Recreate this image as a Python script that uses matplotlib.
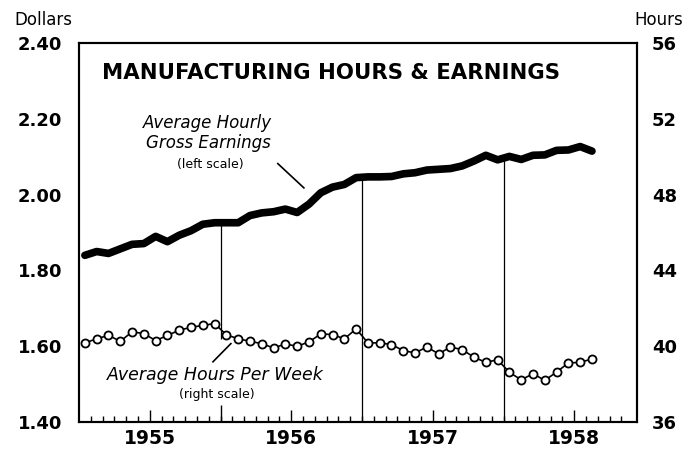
import matplotlib
matplotlib.use("Agg")
import matplotlib.pyplot as plt
import matplotlib.transforms as mtransforms

# monthly values, Jan 1955 .. Aug 1958
earnings = [1.84, 1.85, 1.845, 1.857, 1.869, 1.871, 1.89, 1.876, 1.893, 1.905, 1.922, 1.926,
            1.926, 1.926, 1.945, 1.952, 1.955, 1.962, 1.953, 1.975, 2.005, 2.02, 2.027, 2.045,
            2.047, 2.047, 2.048, 2.055, 2.058, 2.065, 2.067, 2.069, 2.076, 2.089, 2.104, 2.092,
            2.101, 2.093, 2.104, 2.105, 2.117, 2.118, 2.127, 2.115]
hours = [40.18, 40.39, 40.58, 40.26, 40.76, 40.67, 40.30, 40.57, 40.85, 41.0, 41.1, 41.2,
         40.6, 40.4, 40.26, 40.14, 39.91, 40.12, 40.0, 40.23, 40.65, 40.62, 40.39, 40.92,
         40.18, 40.18, 40.09, 39.77, 39.65, 39.96, 39.6, 39.96, 39.82, 39.42, 39.15, 39.29,
         38.62, 38.23, 38.55, 38.2, 38.64, 39.12, 39.15, 39.33]
years = ["1955", "1956", "1957", "1958"]
dollar_ticks = [1.40, 1.60, 1.80, 2.00, 2.20, 2.40]
hour_ticks = [36, 40, 44, 48, 52, 56]

months = [i + 0.5 for i in range(len(earnings))]

fig = plt.figure(figsize=(6.99, 4.49), dpi=100)
ax = fig.add_axes([0.113, 0.060, 0.798, 0.844])
ax2 = ax.twinx()

ax.set_xlim(0, 47.3)
ax.set_ylim(1.40, 2.40)
ax2.set_ylim(36, 56)

ax.plot(months, earnings, color="black", lw=5.5, solid_capstyle="round",
        solid_joinstyle="round", zorder=3)
ax2.plot(months, hours, color="black", lw=1.2, marker="o", ms=5.8,
         mfc="white", mec="black", mew=1.3, zorder=3)

# year divider lines
ax.vlines(12, 1.62, earnings[11], color="black", lw=0.9)
ax.vlines(24, 1.40, earnings[23], color="black", lw=0.9)
ax.vlines(36, 1.40, earnings[35], color="black", lw=0.9)

for a in (ax, ax2):
    for s in a.spines.values():
        s.set_linewidth(1.5)

# y axes: labels on all, tick marks only on inner values
ax.set_yticks(dollar_ticks)
ax.set_yticklabels(["%.2f" % v for v in dollar_ticks], fontsize=13, fontweight="bold")
ax.set_yticks(dollar_ticks[1:-1], minor=True)
ax.tick_params(axis="y", which="major", length=0, pad=12)
ax.tick_params(axis="y", which="minor", direction="in", length=9, width=1.2)

ax2.set_yticks(hour_ticks)
ax2.set_yticklabels([str(v) for v in hour_ticks], fontsize=13, fontweight="bold")
ax2.set_yticks(hour_ticks[1:-1], minor=True)
ax2.tick_params(axis="y", which="major", length=0, pad=11)
ax2.tick_params(axis="y", which="minor", direction="in", length=9, width=1.2)

# x axis: monthly ticks, longer mid-year ticks carrying the year labels
ax.set_xticks([6, 18, 30, 42])
ax.set_xticklabels(years, fontsize=13.5, fontweight="bold")
ax.set_xticks(range(1, 47), minor=True)
ax.tick_params(axis="x", which="major", direction="in", length=9, width=1.0, pad=5)
ax.tick_params(axis="x", which="minor", direction="in", length=4, width=1.0)
trans = mtransforms.blended_transform_factory(ax.transData, ax.transAxes)
ax.vlines([12], 0, 0.045, color="black", lw=1.0, transform=trans)

fig.text(0.02, 0.955, "Dollars", fontsize=12, ha="left", va="center")
fig.text(0.977, 0.955, "Hours", fontsize=12, ha="right", va="center")

ax.text(21.36, 2.32, "MANUFACTURING HOURS & EARNINGS", fontsize=15.3,
        fontweight="bold", ha="center", va="center")

ax.text(10.93, 2.162, "Average Hourly\nGross Earnings", fontsize=12, style="italic",
        ha="center", va="center", linespacing=1.15)
ax.text(11.1, 2.079, "(left scale)", fontsize=9, ha="center", va="center")
ax.plot([16.86, 19.07], [2.082, 2.018], color="black", lw=1.2)

ax.text(11.53, 1.525, "Average Hours Per Week", fontsize=12.5, style="italic",
        ha="center", va="center")
ax.text(11.7, 1.472, "(right scale)", fontsize=9, ha="center", va="center")
ax.plot([11.36, 12.88], [1.559, 1.607], color="black", lw=1.2)

fig.savefig("out.png", dpi=100)
